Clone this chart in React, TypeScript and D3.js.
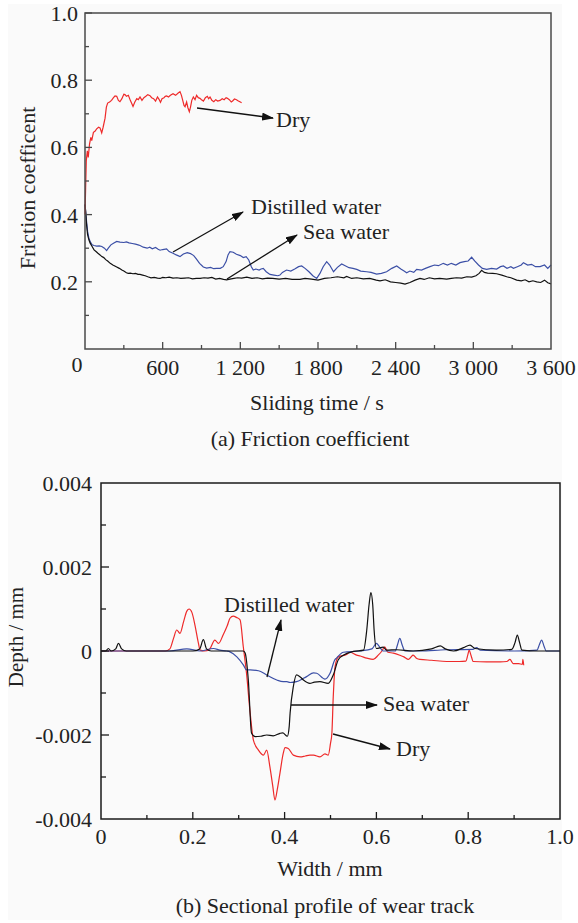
import React from "react";
import * as d3 from "d3";

// ---------- (a) Friction coefficient ----------
const fricXTicks = [0, 600, 1200, 1800, 2400, 3000, 3600];
const fricYTicks = [0.2, 0.4, 0.6, 0.8, 1.0];

const dryFriction: [number, number][] = [
  [0, 0.40], [5, 0.48], [10, 0.56], [18, 0.59], [25, 0.57], [35, 0.61], [45, 0.63], [52, 0.62],
  [65, 0.645], [77, 0.648], [90, 0.655], [105, 0.66], [116, 0.658], [129, 0.643], [140, 0.66],
  [155, 0.687], [165, 0.72], [175, 0.732], [190, 0.735], [205, 0.74], [220, 0.748], [232, 0.753],
  [245, 0.752], [258, 0.74], [270, 0.736], [285, 0.745], [300, 0.758], [309, 0.757], [320, 0.752],
  [335, 0.755], [350, 0.74], [362, 0.73], [371, 0.722], [385, 0.735], [400, 0.745], [412, 0.742],
  [425, 0.75], [440, 0.74], [455, 0.748], [470, 0.752], [485, 0.757], [502, 0.754], [515, 0.748],
  [530, 0.745], [545, 0.738], [560, 0.75], [572, 0.743], [583, 0.734], [595, 0.745], [610, 0.748],
  [620, 0.752], [631, 0.753], [645, 0.75], [660, 0.755], [680, 0.76], [700, 0.755], [720, 0.762],
  [734, 0.766], [745, 0.755], [755, 0.74], [765, 0.725], [773, 0.721], [785, 0.735], [795, 0.718],
  [806, 0.706], [815, 0.72], [825, 0.74], [837, 0.75], [850, 0.742], [862, 0.755], [875, 0.748],
  [888, 0.746], [900, 0.742], [915, 0.738], [930, 0.748], [945, 0.752], [955, 0.745], [966, 0.75],
  [980, 0.74], [995, 0.736], [1010, 0.742], [1025, 0.738], [1043, 0.74], [1060, 0.745], [1075, 0.742],
  [1090, 0.748], [1100, 0.746], [1115, 0.742], [1130, 0.735], [1140, 0.738], [1155, 0.744],
  [1170, 0.742], [1185, 0.738], [1200, 0.735], [1210, 0.733],
];

const seaFriction: [number, number][] = [
  [0, 0.43], [5, 0.41], [12, 0.37], [20, 0.34], [30, 0.325], [40, 0.315], [55, 0.305], [70, 0.295],
  [85, 0.29], [100, 0.285], [116, 0.28], [130, 0.275], [145, 0.272], [160, 0.266], [175, 0.262],
  [195, 0.255], [215, 0.25], [230, 0.247], [245, 0.244], [265, 0.24], [285, 0.235], [300, 0.232],
  [320, 0.227], [334, 0.225], [350, 0.226], [370, 0.224], [390, 0.225], [410, 0.222], [425, 0.222],
  [445, 0.22], [465, 0.218], [485, 0.215], [510, 0.212], [535, 0.213], [560, 0.211], [580, 0.21],
  [600, 0.213], [625, 0.212], [650, 0.214], [680, 0.211], [710, 0.212], [740, 0.21], [770, 0.211],
  [800, 0.212], [830, 0.209], [860, 0.21], [890, 0.21], [920, 0.212], [950, 0.211], [980, 0.213],
  [1010, 0.208], [1040, 0.21], [1070, 0.207], [1094, 0.206], [1120, 0.208], [1150, 0.21],
  [1180, 0.212], [1210, 0.211], [1250, 0.214], [1290, 0.21], [1330, 0.212], [1370, 0.209],
  [1410, 0.211], [1450, 0.21], [1500, 0.208], [1550, 0.21], [1600, 0.207], [1660, 0.207],
  [1700, 0.21], [1750, 0.208], [1800, 0.205], [1850, 0.21], [1900, 0.212], [1950, 0.215],
  [2000, 0.212], [2021, 0.216], [2060, 0.21], [2100, 0.212], [2150, 0.209], [2200, 0.21],
  [2250, 0.205], [2279, 0.203], [2320, 0.206], [2360, 0.2], [2400, 0.198], [2440, 0.196],
  [2472, 0.193], [2510, 0.198], [2550, 0.205], [2588, 0.21], [2620, 0.207], [2660, 0.212],
  [2700, 0.209], [2740, 0.21], [2794, 0.208], [2830, 0.21], [2870, 0.212], [2910, 0.211],
  [2950, 0.215], [2987, 0.214], [3020, 0.218], [3045, 0.225], [3064, 0.234], [3085, 0.228],
  [3110, 0.226], [3150, 0.225], [3180, 0.224], [3220, 0.22], [3258, 0.215], [3290, 0.212],
  [3335, 0.205], [3370, 0.203], [3400, 0.206], [3430, 0.2], [3460, 0.203], [3490, 0.2],
  [3520, 0.198], [3550, 0.205], [3575, 0.197], [3600, 0.194],
];

const distilledFriction: [number, number][] = [
  [0, 0.43], [5, 0.41], [12, 0.38], [20, 0.35], [30, 0.33], [42, 0.318], [55, 0.31], [70, 0.308],
  [90, 0.306], [110, 0.307], [130, 0.305], [150, 0.3], [167, 0.293], [180, 0.3], [200, 0.31],
  [220, 0.315], [245, 0.32], [270, 0.318], [300, 0.317], [320, 0.319], [340, 0.316], [365, 0.314],
  [390, 0.312], [410, 0.31], [425, 0.308], [450, 0.303], [480, 0.3], [500, 0.303], [520, 0.298],
  [545, 0.302], [565, 0.297], [580, 0.294], [600, 0.296], [630, 0.298], [650, 0.29], [680, 0.285],
  [705, 0.28], [734, 0.275], [760, 0.283], [790, 0.287], [815, 0.284], [840, 0.278], [860, 0.268],
  [885, 0.255], [914, 0.244], [940, 0.241], [970, 0.243], [995, 0.239], [1017, 0.24], [1045, 0.24],
  [1068, 0.245], [1090, 0.26], [1105, 0.28], [1120, 0.29], [1145, 0.288], [1170, 0.282],
  [1200, 0.278], [1223, 0.272], [1245, 0.275], [1265, 0.265], [1285, 0.245], [1300, 0.235],
  [1320, 0.238], [1345, 0.235], [1360, 0.238], [1377, 0.24], [1400, 0.23], [1429, 0.222],
  [1460, 0.22], [1490, 0.218], [1506, 0.22], [1525, 0.228], [1557, 0.235], [1590, 0.232],
  [1620, 0.238], [1650, 0.245], [1674, 0.247], [1700, 0.24], [1730, 0.23], [1760, 0.218],
  [1790, 0.21], [1815, 0.225], [1840, 0.245], [1867, 0.26], [1890, 0.25], [1920, 0.23],
  [1950, 0.243], [1983, 0.253], [2010, 0.248], [2040, 0.242], [2070, 0.24], [2099, 0.237],
  [2130, 0.232], [2176, 0.23], [2210, 0.228], [2253, 0.223], [2290, 0.225], [2330, 0.23],
  [2370, 0.24], [2408, 0.247], [2440, 0.238], [2465, 0.232], [2485, 0.227], [2510, 0.232],
  [2540, 0.228], [2562, 0.237], [2600, 0.235], [2630, 0.24], [2665, 0.245], [2700, 0.25],
  [2730, 0.248], [2768, 0.255], [2800, 0.25], [2830, 0.255], [2865, 0.25], [2897, 0.257],
  [2930, 0.26], [2960, 0.262], [2987, 0.273], [3010, 0.262], [3040, 0.25], [3070, 0.24],
  [3103, 0.237], [3140, 0.24], [3180, 0.238], [3210, 0.245], [3232, 0.247], [3260, 0.24],
  [3290, 0.245], [3310, 0.24], [3340, 0.245], [3370, 0.25], [3387, 0.257], [3420, 0.25],
  [3450, 0.252], [3480, 0.245], [3516, 0.245], [3550, 0.25], [3575, 0.24], [3600, 0.25],
];

// ---------- (b) Sectional profile ----------
const profXTicks = [0, 0.2, 0.4, 0.6, 0.8, 1.0];
const profYTicks = [-0.004, -0.002, 0, 0.002, 0.004];

const dryProfile: [number, number][] = [
  [0, 0], [0.05, 0], [0.1, 0], [0.14, 0], [0.15, 0.00005], [0.158, 0.0003], [0.165, 0.0005],
  [0.172, 0.00042], [0.18, 0.0007], [0.187, 0.00095], [0.192, 0.001], [0.198, 0.00092],
  [0.205, 0.0006], [0.212, 0.0002], [0.216, 0.00002], [0.225, 0], [0.237, 0.00005],
  [0.248, 0.00026], [0.256, 0.00018], [0.266, 0.00038], [0.275, 0.0006], [0.281, 0.00078],
  [0.288, 0.00083], [0.295, 0.0008], [0.303, 0.00074], [0.31, 0.0001], [0.317, -0.00053],
  [0.325, -0.00148], [0.332, -0.00212], [0.343, -0.00236], [0.354, -0.00248], [0.361, -0.00236],
  [0.368, -0.00276], [0.374, -0.0032], [0.379, -0.00355], [0.384, -0.0033], [0.39, -0.0029],
  [0.397, -0.00244], [0.401, -0.0023], [0.408, -0.00232], [0.419, -0.00248], [0.434, -0.00252],
  [0.445, -0.0025], [0.455, -0.00248], [0.463, -0.00248], [0.477, -0.00252], [0.488, -0.00245],
  [0.495, -0.00248], [0.5, -0.0022], [0.503, -0.00196], [0.506, -0.00109], [0.51, -0.00037],
  [0.517, -0.00014], [0.535, -0.00008], [0.542, -0.00003], [0.557, -0.0001], [0.565, -0.00012],
  [0.579, -0.00017], [0.593, -0.0002], [0.604, -0.0001], [0.612, 0], [0.618, 0.0001],
  [0.625, -0.00003], [0.637, -0.00005], [0.651, -0.0001], [0.66, -0.00014], [0.67, -0.0002],
  [0.675, -0.00015], [0.68, -0.0001], [0.688, -0.00018], [0.695, -0.0002], [0.72, -0.00022],
  [0.753, -0.00025], [0.78, -0.00025], [0.795, -0.00024], [0.799, -0.0001], [0.802, 0.00002],
  [0.806, -0.0001], [0.811, -0.00025], [0.84, -0.00026], [0.87, -0.00026], [0.884, -0.00025],
  [0.891, -0.0002], [0.898, -0.0003], [0.91, -0.0003], [0.918, -0.00032], [0.919, -0.0002],
  [0.921, -0.00034],
];

const seaProfile: [number, number][] = [
  [0, 0], [0.01, 0], [0.016, 0.00006], [0.022, 0], [0.032, 0.00005], [0.038, 0.00018],
  [0.045, 0.00005], [0.055, 0], [0.1, 0], [0.15, 0], [0.2, 0], [0.215, 0.00005], [0.223, 0.00027],
  [0.23, 0.00005], [0.24, 0], [0.28, 0], [0.31, 0], [0.314, -0.00005], [0.321, -0.0007],
  [0.328, -0.00196], [0.336, -0.00204], [0.348, -0.00203], [0.361, -0.002], [0.375, -0.00202],
  [0.39, -0.00196], [0.396, -0.00195], [0.406, -0.00203], [0.41, -0.0018], [0.412, -0.00148],
  [0.419, -0.00085], [0.426, -0.00057], [0.434, -0.00062], [0.441, -0.00069], [0.455, -0.00077],
  [0.465, -0.00074], [0.477, -0.00073], [0.495, -0.00077], [0.506, -0.00057], [0.517, -0.00021],
  [0.528, -0.0001], [0.55, -0.00001], [0.572, 0.00002], [0.579, 0.0005], [0.584, 0.0011],
  [0.588, 0.00139], [0.592, 0.0011], [0.595, 0.0005], [0.6, 0.00006], [0.615, 0.00009],
  [0.622, 0.00002], [0.644, 0.00003], [0.68, 0], [0.72, 0.00005], [0.739, 0.00012],
  [0.75, 0.00005], [0.768, 0], [0.79, 0.00008], [0.804, 0.00014], [0.815, 0.00006],
  [0.862, 0.00002], [0.895, 0.00004], [0.902, 0.0002], [0.907, 0.00038], [0.912, 0.0002],
  [0.917, 0.00002], [0.95, 0], [1.0, 0],
];

const distilledProfile: [number, number][] = [
  [0, 0], [0.05, 0], [0.1, 0], [0.15, 0], [0.187, 0.00005], [0.216, 0], [0.245, 0.00006],
  [0.259, 0.00002], [0.274, 0], [0.281, -0.00002], [0.296, -0.00014], [0.31, -0.00033],
  [0.317, -0.00045], [0.325, -0.00045], [0.343, -0.00047], [0.361, -0.00057], [0.383, -0.00069],
  [0.397, -0.00073], [0.405, -0.00073], [0.412, -0.00075], [0.426, -0.00073], [0.441, -0.00065],
  [0.448, -0.00061], [0.463, -0.00052], [0.47, -0.00053], [0.488, -0.00067], [0.499, -0.00053],
  [0.51, -0.0002], [0.513, -0.00017], [0.528, -0.00003], [0.564, 0], [0.59, 0.00005],
  [0.6, 0.00018], [0.604, 0.00014], [0.615, 0], [0.641, 0], [0.646, 0.00015], [0.651, 0.0003],
  [0.656, 0.00015], [0.662, 0], [0.695, 0], [0.75, 0.00003], [0.81, 0.00004], [0.818, 0.00008],
  [0.826, 0.00002], [0.9, 0], [0.95, 0.00002], [0.955, 0.00015], [0.96, 0.00026],
  [0.965, 0.00012], [0.97, 0], [1.0, 0],
];

const FONT = "'Liberation Serif', 'Times New Roman', serif";
const RED = "#ee2a2a";
const BLUE = "#3b4fa6";
const BLACK = "#111";
const TXT = "#222";

export default function App() {
  // panel (a)
  const ax = d3.scaleLinear().domain([0, 3600]).range([85, 551]);
  const ay = d3.scaleLinear().domain([0, 1.0]).range([349, 13]);
  // panel (b)
  const bx = d3.scaleLinear().domain([0, 1.0]).range([101, 560]);
  const by = d3.scaleLinear().domain([-0.004, 0.004]).range([819, 483]);

  const lineA = d3.line<[number, number]>().x((d) => ax(d[0])).y((d) => ay(d[1]));
  const lineB = d3
    .line<[number, number]>()
    .x((d) => bx(d[0]))
    .y((d) => by(d[1]))
    .curve(d3.curveMonotoneX);

  const spaceFmt = d3.formatLocale({ decimal: ".", thousands: " ", grouping: [3], currency: ["", ""] }).format(",");

  const aMinorY = d3.range(0.1, 1.0, 0.2);
  const aMinorX = d3.range(300, 3600, 600);
  const bMinorX = d3.range(0.1, 1.0, 0.2);
  const bMinorY = [-0.003, -0.001, 0.001, 0.003];

  const axisA = "#4a4a4a";
  const axisB = "#1a1a1a";

  const arrow = (x1: number, y1: number, x2: number, y2: number, key: string) => (
    <line key={key} x1={x1} y1={y1} x2={x2} y2={y2} stroke="#111" strokeWidth={1.3} markerEnd="url(#ah)" />
  );

  return (
    <svg width={578} height={923} style={{ position: "absolute", left: 0, top: 0 }} fontFamily={FONT}>
      <defs>
        <marker id="ah" viewBox="0 0 12 8" refX={11} refY={4} markerWidth={12} markerHeight={8}
          markerUnits="userSpaceOnUse" orient="auto">
          <path d="M0,0 L12,4 L0,8 Z" fill="#111" />
        </marker>
      </defs>
      <rect x={0} y={0} width={578} height={923} fill="#ffffff" />
      <rect x={8} y={4} width={554} height={916} fill="#fafafa" />

      {/* ===== Panel (a) ===== */}
      <g>
        <path d={lineA(distilledFriction) || ""} fill="none" stroke={BLUE} strokeWidth={1.2} />
        <path d={lineA(seaFriction) || ""} fill="none" stroke={BLACK} strokeWidth={1.2} />
        <path d={lineA(dryFriction) || ""} fill="none" stroke={RED} strokeWidth={1.2} />

        <rect x={ax(0)} y={ay(1)} width={ax(3600) - ax(0)} height={ay(0) - ay(1)} fill="none" stroke={axisA} strokeWidth={1.5} />
        {fricYTicks.map((t) => (
          <g key={"ay" + t}>
            <line x1={ax(0)} x2={ax(0) + 7} y1={ay(t)} y2={ay(t)} stroke={axisA} strokeWidth={1.3} />
            <text x={78} y={ay(t)} dy="0.36em" textAnchor="end" fontSize={22} fill={TXT}>{d3.format(".1f")(t)}</text>
          </g>
        ))}
        {aMinorY.map((t) => (
          <line key={"amy" + t} x1={ax(0)} x2={ax(0) + 4} y1={ay(t)} y2={ay(t)} stroke={axisA} strokeWidth={1.3} />
        ))}
        {fricXTicks.map((t) => (
          <g key={"ax" + t}>
            {t > 0 && t < 3600 && <line x1={ax(t)} x2={ax(t)} y1={ay(0)} y2={ay(0) - 7} stroke={axisA} strokeWidth={1.3} />}
            {t > 0 && (
              <text x={ax(t)} y={375} textAnchor="middle" fontSize={22} fill={TXT}>{spaceFmt(t)}</text>
            )}
          </g>
        ))}
        {aMinorX.map((t) => (
          <line key={"amx" + t} x1={ax(t)} x2={ax(t)} y1={ay(0)} y2={ay(0) - 4} stroke={axisA} strokeWidth={1.3} />
        ))}
        <text x={77} y={372} textAnchor="middle" fontSize={22} fill={TXT}>0</text>

        <text transform="translate(35,188) rotate(-90)" textAnchor="middle" fontSize={22} fill={TXT}>Friction coefficent</text>
        <text x={317} y={410} textAnchor="middle" fontSize={22} fill={TXT}>Sliding time / s</text>
        <text x={310} y={446} textAnchor="middle" fontSize={22} fill={TXT}>(a) Friction coefficient</text>

        {arrow(197, 108, 273, 118, "a1")}
        <text x={276} y={127} fontSize={22} fill={TXT}>Dry</text>
        {arrow(173, 252, 243, 212, "a2")}
        <text x={251} y={214} fontSize={22} fill={TXT}>Distilled water</text>
        {arrow(227, 279, 297, 235, "a3")}
        <text x={303} y={239} fontSize={22} fill={TXT}>Sea water</text>
      </g>

      {/* ===== Panel (b) ===== */}
      <g>
        <path d={lineB(dryProfile) || ""} fill="none" stroke={RED} strokeWidth={1.2} />
        <path d={lineB(distilledProfile) || ""} fill="none" stroke={BLUE} strokeWidth={1.2} />
        <path d={lineB(seaProfile) || ""} fill="none" stroke={BLACK} strokeWidth={1.2} />

        <rect x={bx(0)} y={by(0.004)} width={bx(1) - bx(0)} height={by(-0.004) - by(0.004)} fill="none" stroke={axisB} strokeWidth={1.5} />
        {profYTicks.map((t) => (
          <g key={"by" + t}>
            {t > -0.004 && t < 0.004 && (
              <line x1={bx(0)} x2={bx(0) + 8} y1={by(t)} y2={by(t)} stroke={axisB} strokeWidth={1.3} />
            )}
            <text x={92} y={by(t)} dy="0.36em" textAnchor="end" fontSize={22} fill={TXT}>
              {t === 0 ? "0" : (t < 0 ? "-" : "") + d3.format(".3f")(Math.abs(t))}
            </text>
          </g>
        ))}
        {bMinorY.map((t) => (
          <line key={"bmy" + t} x1={bx(0)} x2={bx(0) + 5} y1={by(t)} y2={by(t)} stroke={axisB} strokeWidth={1.3} />
        ))}
        {profXTicks.map((t) => (
          <g key={"bx" + t}>
            {t > 0 && t < 1 && <line x1={bx(t)} x2={bx(t)} y1={by(-0.004)} y2={by(-0.004) - 7} stroke={axisB} strokeWidth={1.3} />}
            <text x={bx(t)} y={844} textAnchor="middle" fontSize={22} fill={TXT}>
              {t === 0 ? "0" : d3.format(".1f")(t)}
            </text>
          </g>
        ))}
        {bMinorX.map((t) => (
          <line key={"bmx" + t} x1={bx(t)} x2={bx(t)} y1={by(-0.004)} y2={by(-0.004) - 4} stroke={axisB} strokeWidth={1.3} />
        ))}

        <text transform="translate(23,637) rotate(-90)" textAnchor="middle" fontSize={21} fill={TXT}>Depth / mm</text>
        <text x={330} y={876} textAnchor="middle" fontSize={22} fill={TXT}>Width / mm</text>
        <text x={325} y={913} textAnchor="middle" fontSize={22} fill={TXT}>(b) Sectional profile of wear track</text>

        {arrow(267, 677, 281, 620, "b1")}
        <text x={224} y={612} fontSize={22} fill={TXT}>Distilled water</text>
        {arrow(291, 705, 377, 705, "b2")}
        <text x={383} y={711} fontSize={22} fill={TXT}>Sea water</text>
        {arrow(333, 734, 390, 749, "b3")}
        <text x={396} y={756} fontSize={22} fill={TXT}>Dry</text>
      </g>
    </svg>
  );
}
